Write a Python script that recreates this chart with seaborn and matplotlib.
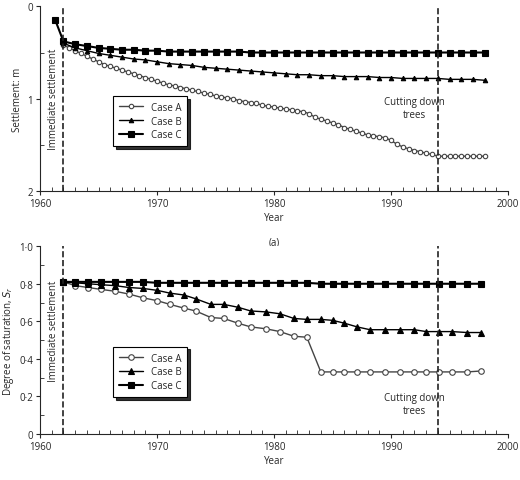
import matplotlib
matplotlib.use("Agg")
import matplotlib.pyplot as plt
import seaborn as sns
import numpy as np
import pandas as pd

sns.set_style("ticks")
plt.rcParams['font.family'] = ['Open Sans', 'DejaVu Sans']

# (a) settlement
yrA_a = [1962 + 0.5 * i for i in range(73)]
setA = [0.42,0.45,0.48,0.51,0.54,0.57,0.60,0.63,0.65,0.67,0.69,0.71,0.73,0.75,0.77,0.79,
        0.81,0.83,0.85,0.86,0.88,0.89,0.91,0.92,0.94,0.95,0.97,0.98,0.99,1.00,1.02,1.03,
        1.04,1.05,1.07,1.08,1.09,1.10,1.11,1.12,1.13,1.14,1.16,1.20,1.22,1.24,1.26,1.28,
        1.31,1.33,1.35,1.37,1.39,1.40,1.41,1.42,1.45,1.49,1.52,1.54,1.56,1.57,1.59,1.60,
        1.62,1.62,1.62,1.62,1.62,1.62,1.62,1.62,1.62]
yrB_a = list(range(1962, 1999))
setB = [0.40,0.45,0.48,0.51,0.53,0.55,0.57,0.58,0.60,0.62,0.63,0.64,0.66,0.67,0.68,0.69,
        0.70,0.71,0.72,0.73,0.74,0.74,0.75,0.75,0.76,0.76,0.76,0.77,0.77,0.78,0.78,0.78,
        0.78,0.79,0.79,0.79,0.80]
yrC_a = [1961.3] + list(range(1962, 1999))
setC = [0.15,0.38,0.41,0.43,0.45,0.46,0.47,0.47,0.48,0.48,0.49,0.49,0.49,0.49,0.49,0.49,
        0.49,0.50,0.50,0.50,0.50,0.50,0.50,0.50,0.50,0.50,0.50,0.50,0.50,0.50,0.50,0.50,
        0.50,0.50,0.50,0.50,0.50,0.50]

# (b) degree of saturation
yr_b = [1962,1963,1964.1,1965.2,1966.4,1967.6,1968.8,1970,1971.1,1972.3,1973.3,1974.6,
        1975.7,1976.9,1978,1979.3,1980.5,1981.7,1982.8,1984,1985,1986,1987.1,1988.2,
        1989.5,1990.8,1992,1993,1994.1,1995.2,1996.5,1997.7]
srA = [0.81,0.79,0.78,0.77,0.76,0.745,0.725,0.71,0.69,0.67,0.655,0.62,0.615,0.59,0.57,
       0.56,0.545,0.52,0.515,0.33,0.33,0.33,0.33,0.33,0.33,0.33,0.33,0.33,0.33,0.33,0.33,0.335]
srB = [0.81,0.805,0.80,0.795,0.79,0.78,0.775,0.765,0.75,0.74,0.72,0.69,0.69,0.675,0.655,
       0.65,0.64,0.615,0.61,0.61,0.605,0.59,0.57,0.555,0.555,0.555,0.555,0.545,0.545,
       0.545,0.54,0.54]
srC = [0.81,0.81,0.81,0.81,0.81,0.81,0.81,0.805,0.805,0.805,0.805,0.805,0.805,0.805,0.805,
       0.805,0.805,0.805,0.805,0.80,0.80,0.80,0.80,0.80,0.80,0.80,0.80,0.80,0.80,0.80,0.80,0.80]

labels = ["Case A", "Case B", "Case C"]
def styles(ms):
    return [dict(marker='o', mfc='white', mec='#444', color='#444', ms=ms, lw=1),
            dict(marker='^', mfc='black', mec='black', color='black', ms=ms, lw=1),
            dict(marker='s', mfc='black', mec='black', color='black', ms=ms + 0.5, lw=1.5)]

fig = plt.figure(figsize=(5.2, 4.81), dpi=100)
ax1 = fig.add_axes([0.077, 0.60, 0.900, 0.385])
ax2 = fig.add_axes([0.077, 0.096, 0.900, 0.39])

def draw(ax, data, ms):
    for (x, y), lab, st in zip(data, labels, styles(ms)):
        sns.lineplot(x=x, y=y, ax=ax, label=lab, markeredgewidth=0.8, **st)

draw(ax1, [(yrA_a, setA), (yrB_a, setB), (yrC_a, setC)], 3.2)
draw(ax2, [(yr_b, srA), (yr_b, srB), (yr_b, srC)], 4)

fs = 7
for ax, ly, tag in ((ax1, 0.38, "(a)"), (ax2, 0.33, "(b)")):
    ax.set_xlim(1960, 2000)
    ax.set_xticks([1960, 1970, 1980, 1990, 2000])
    ax.set_xticks(np.arange(1960, 2001, 1), minor=True)
    ax.tick_params(labelsize=fs, length=3, width=0.8, direction='out', pad=2)
    ax.tick_params(which='minor', length=3, width=0.6, direction='in')
    ax.axvline(1962, ls='--', color='#222', lw=1.2)
    ax.axvline(1994, ls='--', color='#222', lw=1.2)
    ax.set_xlabel("Year", fontsize=fs, labelpad=2)
    ax.text(0.5, -0.245, tag, transform=ax.transAxes, fontsize=fs, ha='center', va='top')
    sns.despine(ax=ax)
    leg = ax.legend(loc='center left', bbox_to_anchor=(0.145, ly),
                    fontsize=fs, frameon=True, fancybox=False,
                    edgecolor='black', handlelength=2.5, borderpad=0.6,
                    labelspacing=0.3, shadow={'color': 'black', 'alpha': 0.8})
    leg.get_frame().set_linewidth(0.8)

ax1.set_ylim(2, 0)
ax1.set_yticks([0, 1, 2])
ax1.set_yticks(np.arange(0, 2.01, 0.5), minor=True)
ax1.set_ylabel("Settlement: m", fontsize=fs, labelpad=3)
ax1.text(1961.6, 1.0, "Immediate settlement", rotation=90, fontsize=fs, ha='right', va='center')
ax1.text(1992, 1.1, "Cutting down\ntrees", fontsize=fs, ha='center', va='center')

ax2.set_ylim(0, 1.0)
ax2.set_yticks([0, 0.2, 0.4, 0.6, 0.8, 1.0])
ax2.set_yticklabels(["0", "0·2", "0·4", "0·6", "0·8", "1·0"])
ax2.set_yticks(np.arange(0, 1.01, 0.1), minor=True)
ax2.set_ylabel("Degree of saturation, $S_r$", fontsize=fs, labelpad=2)
ax2.text(1961.6, 0.55, "Immediate settlement", rotation=90, fontsize=fs, ha='right', va='center')
ax2.text(1992, 0.16, "Cutting down\ntrees", fontsize=fs, ha='center', va='center')

fig.savefig("out.png", dpi=100)
